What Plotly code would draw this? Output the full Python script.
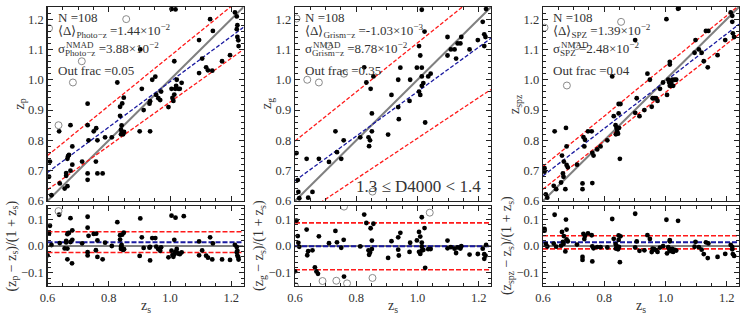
import plotly.graph_objects as go

# ---------------- data ----------------
# Panel 1: photo-z
p1_zs = [0.608,0.605,0.613,0.638,0.640,0.656,0.665,0.667,0.665,0.670,0.661,0.661,0.675,0.681,0.681,0.675,
         0.713,0.731,0.731,0.731,0.731,0.734,0.751,0.759,0.758,0.763,0.763,0.780,0.788,0.810,0.828,0.837,
         0.837,0.842,0.844,0.849,0.840,0.843,0.847,0.850,0.840,0.901,0.903,0.908,0.914,0.933,0.935,0.935,
         0.942,0.952,0.955,0.962,0.968,0.971,0.995,1.005,1.018,1.005,1.008,1.011,1.014,1.017,1.020,1.022,
         1.027,1.032,1.038,1.014,1.095,1.095,1.105,1.118,1.124,1.138,1.131,1.140,1.170,1.196,1.212,1.218,
         1.218,1.220,1.220,1.223,1.224,1.045,0.680,0.665,0.600]
p1_zp = [0.730,0.680,0.619,0.830,0.658,0.641,0.649,0.748,0.739,0.752,0.692,0.683,0.850,0.780,0.720,0.700,
         0.730,0.921,0.850,0.691,0.670,0.800,0.830,0.840,0.730,0.800,0.691,0.691,0.810,0.810,0.991,0.911,
         0.881,0.849,0.922,0.941,0.835,0.828,0.820,0.828,0.820,0.830,1.100,0.970,0.900,0.921,0.929,0.830,
         1.000,1.010,0.950,0.939,0.933,0.961,0.910,1.233,1.232,0.970,0.940,0.930,0.951,0.970,0.980,1.000,
         0.970,0.970,0.990,1.061,1.022,1.131,1.070,1.041,1.031,1.030,1.200,1.161,1.061,1.081,1.222,1.209,
         1.167,1.180,1.141,1.130,1.111,1.274,0.571,0.582,0.544]
p1_out_zs = [0.605,0.857,0.712,0.683,0.636]
p1_out_zp = [1.170,1.200,1.061,0.991,0.850]

# Panel 2: grism-z
p2_zs = [0.605,0.609,0.611,0.614,0.638,0.643,0.657,0.678,0.711,0.732,0.737,0.751,0.759,0.813,0.826,0.833,
         0.840,0.842,0.845,0.847,0.851,0.851,0.856,0.904,0.915,0.937,0.937,0.939,0.944,0.976,0.974,0.998,
         1.005,1.009,1.005,1.009,1.014,1.014,1.014,1.014,1.019,1.023,1.025,1.035,1.043,1.098,1.098,1.109,
         1.121,1.126,1.131,1.140,1.143,1.170,1.197,1.213,1.218,1.222,1.218,1.224,0.600,0.665,0.670,0.675,
         0.760,0.640]
p2_zg = [0.758,0.669,0.630,0.609,0.739,0.611,0.630,0.739,0.729,0.830,0.761,0.739,0.800,0.810,1.041,0.991,
         0.810,0.781,0.800,0.970,0.889,0.830,1.011,0.819,0.950,1.000,0.910,0.870,1.040,1.000,0.930,1.040,
         1.111,1.080,0.961,0.950,1.231,0.980,1.011,1.040,0.989,1.159,0.859,1.011,1.020,1.141,1.080,1.100,
         1.100,1.070,1.120,1.120,1.141,1.100,1.131,1.191,1.150,1.141,1.111,1.233,0.448,0.532,0.511,0.500,
         0.558,0.583]
p2_out_zs = [0.605,0.640,0.678,0.711,0.760,0.853,0.690,0.735,0.770,0.600,1.040]
p2_out_zg = [1.202,1.000,0.991,1.111,1.020,0.631,0.468,0.509,0.522,0.360,1.295]

# Panel 3: SPZ
p3_zs = [0.605,0.605,0.609,0.614,0.638,0.635,0.643,0.659,0.662,0.668,0.665,0.667,0.673,0.675,0.677,0.677,
         0.681,0.711,0.729,0.729,0.732,0.737,0.735,0.747,0.759,0.761,0.765,0.761,0.777,0.788,0.810,0.826,
         0.831,0.837,0.840,0.842,0.845,0.848,0.838,0.847,0.853,0.847,0.851,0.901,0.901,0.906,0.915,0.931,
         0.941,0.949,0.955,0.958,0.963,0.969,0.974,0.982,0.992,1.003,1.005,1.009,1.012,1.014,1.014,1.014,
         1.019,1.025,1.019,1.022,1.030,1.041,1.035,1.095,1.098,1.109,1.118,1.125,1.132,1.140,1.138,1.170,
         1.195,1.213,1.218,1.218,1.220,1.224]
p3_zspz = [0.708,0.697,0.622,0.611,0.830,0.650,0.639,0.661,0.750,0.730,0.691,0.680,0.639,0.841,0.780,0.719,
           0.711,0.720,0.658,0.639,0.811,0.802,0.780,0.830,0.830,0.759,0.750,0.659,0.770,0.780,0.800,1.011,
           0.880,0.850,0.841,0.830,0.822,0.841,0.820,0.920,0.920,0.889,0.739,1.131,0.891,0.939,0.880,0.900,
           1.020,1.000,0.911,0.939,0.939,0.939,0.930,0.970,0.991,1.200,0.950,1.000,0.991,1.059,1.050,0.980,
           0.980,0.980,0.990,1.000,1.000,1.234,1.000,1.089,1.131,1.100,1.089,1.061,1.161,1.161,1.041,1.081,
           1.131,1.222,1.211,1.191,1.153,1.141]
p3_out_zs = [0.605,0.855,0.710,0.678]
p3_out_zspz = [1.172,1.191,1.111,0.981]

# fitted lines in the top panels (values at zs = 0.6 and zs = 1.24)
fit_x = [0.6, 1.24]
p1_fit_blue = [0.694, 1.173]
p1_fit_red_hi = [0.750, 1.275]
p1_fit_red_lo = [0.637, 1.100]
p2_fit_blue = [0.667, 1.137]
p2_fit_red_hi = [0.798, 1.316]
p2_fit_red_lo = [0.539, 0.968]
p3_fit_blue = [0.683, 1.183]
p3_fit_red_hi = [0.714, 1.245]
p3_fit_red_lo = [0.639, 1.150]

# statistics
stat_mean = [1.44e-2, -1.03e-3, 1.39e-2]
stat_nmad = [3.88e-2, 8.78e-2, 2.48e-2]
stat_labels = [
    ["N =108", "⟨Δ⟩<sub>Photo−z</sub> =1.44×10<sup>−2</sup>", "σ<sub>Photo−z</sub> =3.88×10<sup>−2</sup>", "Out frac =0.05"],
    ["N =108", "⟨Δ⟩<sub>Grism−z</sub> =-1.03×10<sup>−3</sup>", "σ<sub>Grism−z</sub> =8.78×10<sup>−2</sup>", "Out frac =0.35"],
    ["N =108", "⟨Δ⟩<sub>SPZ</sub> =1.39×10<sup>−2</sup>", "σ<sub>SPZ</sub> =2.48×10<sup>−2</sup>", "Out frac =0.04"],
]
ytitles_top = ["z<sub>p</sub>", "z<sub>g</sub>", "z<sub>spz</sub>"]
ytitles_bot = ["(z<sub>p</sub> − z<sub>s</sub>)/(1 + z<sub>s</sub>)",
               "(z<sub>g</sub> − z<sub>s</sub>)/(1 + z<sub>s</sub>)",
               "(z<sub>spz</sub> − z<sub>s</sub>)/(1 + z<sub>s</sub>)"]
xtitle = "z<sub>s</sub>"
bin_label = "1.3 ≤ D4000 < 1.4"
x_ticks = [0.6, 0.8, 1.0, 1.2]
y_ticks_top = [0.6, 0.7, 0.8, 0.9, 1.0, 1.1, 1.2]
y_ticks_bot = [-0.1, 0.0, 0.1]

# --------------- figure ----------------
W, H = 748, 323
FONT = "Liberation Serif"
RED = "#ff1a1a"
BLUE = "#1a1aa0"
GRAY = "#808080"

def fx(p):
    return p / W

def fy(p):
    return 1 - p / H

panel_left = [47.5, 295, 543]
panel_w = 196
top_y = (7, 201)
bot_y = (206, 286)

panels = [
    (p1_zs, p1_zp, p1_out_zs, p1_out_zp, p1_fit_blue, p1_fit_red_hi, p1_fit_red_lo),
    (p2_zs, p2_zg, p2_out_zs, p2_out_zg, p2_fit_blue, p2_fit_red_hi, p2_fit_red_lo),
    (p3_zs, p3_zspz, p3_out_zs, p3_out_zspz, p3_fit_blue, p3_fit_red_hi, p3_fit_red_lo),
]

fig = go.Figure()
layout = dict(width=W, height=H, autosize=False,
              margin=dict(l=0, r=0, t=0, b=0, pad=0, autoexpand=False),
              paper_bgcolor="white", plot_bgcolor="white", showlegend=False,
              font=dict(family=FONT, size=12, color="#222"))
annotations = []

def resid(xs, ys):
    return [(y - x) / (1 + x) for x, y in zip(xs, ys)]

def axis_common():
    return dict(showline=True, linecolor="#222", linewidth=1.3, mirror="allticks",
                ticks="inside", ticklen=5, tickwidth=1, tickcolor="#222",
                showgrid=False, zeroline=False, automargin=False,
                tickfont=dict(family=FONT, size=12.5, color="#333"))

for i, (xs, ys, oxs, oys, fb, frh, frl) in enumerate(panels):
    t = i + 1          # top axis index
    b = i + 4          # bottom axis index
    xt = "x" if t == 1 else f"x{t}"
    yt = "y" if t == 1 else f"y{t}"
    xb = f"x{b}"
    yb = f"y{b}"
    dom_x = [fx(panel_left[i]), fx(panel_left[i] + panel_w)]

    # top panel
    fig.add_trace(go.Scatter(x=fit_x, y=fit_x, mode="lines", line=dict(color=GRAY, width=2),
                             xaxis=xt, yaxis=yt))
    fig.add_trace(go.Scatter(x=fit_x, y=frh, mode="lines", line=dict(color=RED, width=1.3, dash="4px,2px"),
                             xaxis=xt, yaxis=yt))
    fig.add_trace(go.Scatter(x=fit_x, y=frl, mode="lines", line=dict(color=RED, width=1.3, dash="4px,2px"),
                             xaxis=xt, yaxis=yt))
    fig.add_trace(go.Scatter(x=fit_x, y=fb, mode="lines", line=dict(color=BLUE, width=1.3, dash="4px,2px"),
                             xaxis=xt, yaxis=yt))
    fig.add_trace(go.Scatter(x=xs, y=ys, mode="markers", marker=dict(color="black", size=4.8),
                             xaxis=xt, yaxis=yt))
    fig.add_trace(go.Scatter(x=oxs, y=oys, mode="markers",
                             marker=dict(color="rgba(0,0,0,0)", size=7, line=dict(color="#8a8a8a", width=1)),
                             xaxis=xt, yaxis=yt))

    # bottom panel
    m, s = stat_mean[i], stat_nmad[i]
    fig.add_trace(go.Scatter(x=fit_x, y=[0, 0], mode="lines", line=dict(color=GRAY, width=2),
                             xaxis=xb, yaxis=yb))
    fig.add_trace(go.Scatter(x=fit_x, y=[m + s, m + s], mode="lines",
                             line=dict(color=RED, width=1.6, dash="5px,2px"), xaxis=xb, yaxis=yb))
    fig.add_trace(go.Scatter(x=fit_x, y=[m - s, m - s], mode="lines",
                             line=dict(color=RED, width=1.6, dash="5px,2px"), xaxis=xb, yaxis=yb))
    fig.add_trace(go.Scatter(x=fit_x, y=[m, m], mode="lines",
                             line=dict(color=BLUE, width=2, dash="5px,2px"), xaxis=xb, yaxis=yb))
    fig.add_trace(go.Scatter(x=xs, y=resid(xs, ys), mode="markers", marker=dict(color="black", size=4.8),
                             xaxis=xb, yaxis=yb))
    fig.add_trace(go.Scatter(x=oxs, y=resid(oxs, oys), mode="markers",
                             marker=dict(color="rgba(0,0,0,0)", size=7, line=dict(color="#8a8a8a", width=1)),
                             xaxis=xb, yaxis=yb))

    ax = axis_common()
    layout["xaxis" if t == 1 else f"xaxis{t}"] = dict(ax, domain=dom_x, range=[0.6, 1.24], anchor=yt,
                                                      tickvals=x_ticks, showticklabels=False,
                                                      minor=dict(dtick=0.05, ticks="inside", ticklen=3, tickcolor="#222"))
    layout["yaxis" if t == 1 else f"yaxis{t}"] = dict(ax, domain=[fy(top_y[1]), fy(top_y[0])], range=[0.6, 1.24],
                                                      anchor=xt, tickvals=y_ticks_top, tickformat=".1f",
                                                      minor=dict(dtick=0.02, ticks="inside", ticklen=3, tickcolor="#222"))
    layout[f"xaxis{b}"] = dict(ax, domain=dom_x, range=[0.6, 1.24], anchor=yb,
                               tickvals=x_ticks, tickformat=".1f",
                               minor=dict(dtick=0.05, ticks="inside", ticklen=3, tickcolor="#222"))
    layout[f"yaxis{b}"] = dict(ax, domain=[fy(bot_y[1]), fy(bot_y[0])], range=[-0.15, 0.15],
                               anchor=xb, tickvals=y_ticks_bot, tickformat=".1f",
                               minor=dict(dtick=0.02, ticks="inside", ticklen=3, tickcolor="#222"))

    # stats text
    tx = panel_left[i] + 8
    for j, yy in enumerate([18, 31, 49, 70]):
        annotations.append(dict(text=stat_labels[i][j], x=fx(tx), y=fy(yy), xref="paper", yref="paper",
                                xanchor="left", yanchor="middle", showarrow=False,
                                font=dict(family=FONT, size=13, color="#333")))
    annotations.append(dict(text="NMAD", x=fx(tx + 8), y=fy(45), xref="paper", yref="paper",
                            xanchor="left", yanchor="middle", showarrow=False,
                            font=dict(family=FONT, size=9, color="#333")))
    # axis titles
    annotations.append(dict(text=ytitles_top[i], x=fx(panel_left[i] - 27), y=fy(104), xref="paper", yref="paper",
                            xanchor="center", yanchor="middle", textangle=-90, showarrow=False,
                            font=dict(family=FONT, size=14, color="#333")))
    annotations.append(dict(text=ytitles_bot[i], x=fx(panel_left[i] - 36), y=fy(246), xref="paper", yref="paper",
                            xanchor="center", yanchor="middle", textangle=-90, showarrow=False,
                            font=dict(family=FONT, size=14, color="#333")))
    annotations.append(dict(text=xtitle, x=fx(panel_left[i] + panel_w / 2), y=fy(306), xref="paper", yref="paper",
                            xanchor="center", yanchor="middle", showarrow=False,
                            font=dict(family=FONT, size=14, color="#333")))

annotations.append(dict(text=bin_label, x=fx(panel_left[1] + panel_w - 8), y=fy(186), xref="paper", yref="paper",
                        xanchor="right", yanchor="middle", showarrow=False,
                        font=dict(family=FONT, size=17, color="#333")))

layout["annotations"] = annotations
fig.update_layout(**layout)
fig.write_html("out.html", config={"displayModeBar": False, "staticPlot": True},
               post_script="document.body.style.margin='0';document.body.style.overflow='hidden';")
